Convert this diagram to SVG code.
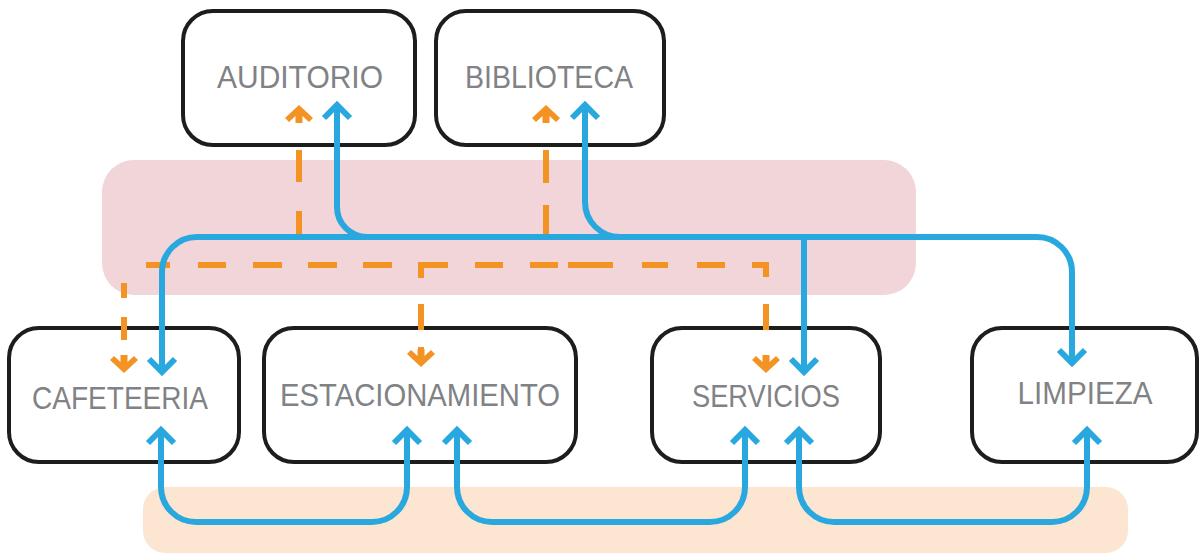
<svg xmlns="http://www.w3.org/2000/svg" width="1199" height="557" viewBox="0 0 1199 557">
<defs>
<style>
.box{fill:#ffffff;stroke:#1d1d1b;stroke-width:4}
.lbl{font-family:"Liberation Sans",Arial,sans-serif;font-size:32px;fill:#808285;text-anchor:middle}
.blue{fill:none;stroke:#29a8e0;stroke-width:6}
.orange{fill:none;stroke:#f39324;stroke-width:6}
.ohead{fill:#f39324}
</style>
<marker id="bh" markerUnits="userSpaceOnUse" markerWidth="40" markerHeight="40" viewBox="-20 -20 40 40" refX="0" refY="0" orient="auto-start-reverse" overflow="visible">
<path d="M-13,-13 L0,0 L-13,13" fill="none" stroke="#29a8e0" stroke-width="6"/>
</marker>
<path id="oh" d="M0,0 L-14,-13 L-10,-17 L-3.5,-11 L-3.5,-18 L3.5,-18 L3.5,-11 L10,-17 L14,-13 Z"/>
</defs>
<g id="bands">
<rect x="102" y="160" width="814" height="135" rx="32" fill="#f2d5d9"/>
<rect x="143" y="487" width="985" height="66" rx="22" fill="#fce6d1"/>
</g>
<g id="auditorio">
<rect class="box" x="183" y="11" width="232" height="134" rx="30"/>
<text class="lbl" x="300" y="88" textLength="166" lengthAdjust="spacingAndGlyphs">AUDITORIO</text>
</g>
<g id="biblioteca">
<rect class="box" x="436" y="11" width="228" height="134" rx="30"/>
<text class="lbl" x="549" y="88" textLength="168" lengthAdjust="spacingAndGlyphs">BIBLIOTECA</text>
</g>
<g id="cafeteeria">
<rect class="box" x="9" y="328" width="230" height="134" rx="30"/>
<text class="lbl" x="120" y="409" textLength="176" lengthAdjust="spacingAndGlyphs">CAFETEERIA</text>
</g>
<g id="estacionamiento">
<rect class="box" x="264" y="328" width="312" height="134" rx="30"/>
<text class="lbl" x="420" y="406" textLength="280" lengthAdjust="spacingAndGlyphs">ESTACIONAMIENTO</text>
</g>
<g id="servicios">
<rect class="box" x="652" y="328" width="228" height="134" rx="30"/>
<text class="lbl" x="766" y="407" textLength="148" lengthAdjust="spacingAndGlyphs">SERVICIOS</text>
</g>
<g id="limpieza">
<rect class="box" x="972" y="328" width="225" height="134" rx="30"/>
<text class="lbl" x="1085" y="404" textLength="135" lengthAdjust="spacingAndGlyphs">LIMPIEZA</text>
</g>
<g id="connectors">
<path class="orange" d="M299,150 V182 M299,211 V237 M546,150 V183 M546,205 V237"/>
<path class="orange" d="M146,265 H170 M198,265 H226 M253,265 H282 M308,265 H337 M363,265 H392 M418,265 H448 M475,265 H503 M530,265 H558 M568,265 H613 M642,265 H668 M697,265 H725 M752,265 H766 V277 M421,265 V278 M421,304 V330 M421,347 V353 M766,304 V330 M124,283 V298 M124,317 V340"/>
<use href="#oh" class="ohead" transform="translate(299,105) rotate(180)"/>
<use href="#oh" class="ohead" transform="translate(546,105) rotate(180)"/>
<use href="#oh" class="ohead" transform="translate(124,373)"/>
<use href="#oh" class="ohead" transform="translate(421,367)"/>
<use href="#oh" class="ohead" transform="translate(766,373)"/>
<path class="blue" d="M162,372 V272 A35,35 0 0 1 197,237 H1037 A35,35 0 0 1 1072,272 V363" marker-start="url(#bh)" marker-end="url(#bh)"/>
<path class="blue" d="M337,105 V207 A30,30 0 0 0 367,237 H390" marker-start="url(#bh)"/>
<path class="blue" d="M585,105 V202 A35,35 0 0 0 620,237 H640" marker-start="url(#bh)"/>
<path class="blue" d="M804,237 V372" marker-end="url(#bh)"/>
<path class="blue" d="M161,430 V487 A35,35 0 0 0 196,522 H372 A35,35 0 0 0 407,487 V430" marker-start="url(#bh)" marker-end="url(#bh)"/>
<path class="blue" d="M457,430 V487 A35,35 0 0 0 492,522 H710 A35,35 0 0 0 745,487 V430" marker-start="url(#bh)" marker-end="url(#bh)"/>
<path class="blue" d="M799,430 V487 A35,35 0 0 0 834,522 H1052 A35,35 0 0 0 1087,487 V430" marker-start="url(#bh)" marker-end="url(#bh)"/>
</g>
</svg>
